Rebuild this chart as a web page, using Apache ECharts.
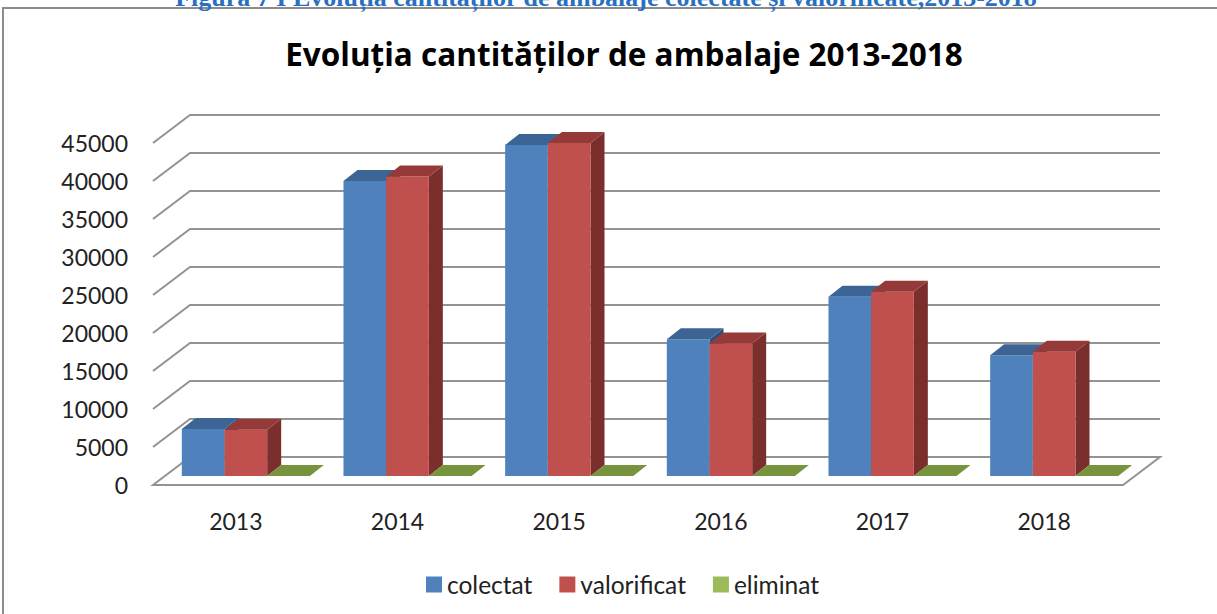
<!DOCTYPE html>
<html>
<head>
<meta charset="utf-8">
<script src="https://cdn.jsdelivr.net/npm/echarts@6/dist/echarts.min.js"></script>
<style>
    html, body { margin: 0; padding: 0; background: #fff; }
    #chart { width: 1217px; height: 614px; }
</style>
</head>
<body>
<div id="chart"></div>
<script>
// data
const years = ['2013', '2014', '2015', '2016', '2017', '2018']
const colectat = [6200, 38800, 43550, 18000, 23600, 15900]
const valorificat = [6100, 39400, 43800, 17450, 24250, 16350]
const eliminat = [0, 0, 0, 0, 0, 0]
const yTicks = [0, 5000, 10000, 15000, 20000, 25000, 30000, 35000, 40000, 45000]

// fake 3d offsets (pixels), relative to the bar plane
const frontOff = [-12, 9]
const backOff = [25, -19]
const barDepth = [14, -11]

const font = 'Lato, "Open Sans", sans-serif'

const chart = echarts.init(document.getElementById('chart'), null, { renderer: 'svg' })

const renderGrid = (params, api) => {
    const v = api.value(1)
    const cs = params.coordSys
    const y = api.coord([0, v])[1]
    const xl = cs.x
    const xr = cs.x + cs.width
    const F = [xl + frontOff[0], y + frontOff[1]]
    const B = [xl + backOff[0], y + backOff[1]]
    const R = [xr + backOff[0], y + backOff[1]]
    const children = []
    if (v === 0) {
        children.push({
            type: 'polygon',
            shape: { points: [F, B, R, [xr + frontOff[0], y + frontOff[1]]] },
            style: { stroke: '#939393', lineWidth: 2, fill: '#fff' }
        })
    } else {
        children.push({
            type: 'polyline',
            shape: { points: [F, B, R] },
            style: { stroke: '#939393', lineWidth: 2, fill: null }
        })
    }
    children.push({
        type: 'text',
        x: F[0] - 25,
        y: F[1],
        style: {
            text: String(v),
            align: 'right',
            verticalAlign: 'middle',
            font: '23px ' + font,
            fill: '#222'
        }
    })
    return { type: 'group', children }
}

const makeBox = (k, front, top, side) => (params, api) => {
    const i = api.value(0)
    const base = api.coord([i, 0])
    const tip = api.coord([i, api.value(1)])
    const band = api.size([1, 0])[0]
    const w = band * 0.264
    const x0 = base[0] - 1.5 * w + k * w
    const x1 = x0 + w
    const yb = base[1]
    const yt = tip[1]
    const dx = barDepth[0]
    const dy = barDepth[1]
    const children = []
    if (yb - yt > 0.5) {
        children.push({
            type: 'polygon',
            shape: { points: [[x1, yt], [x1 + dx, yt + dy], [x1 + dx, yb + dy], [x1, yb]] },
            style: { fill: side }
        })
        children.push({
            type: 'rect',
            shape: { x: x0, y: yt, width: w, height: yb - yt },
            style: { fill: front }
        })
    }
    children.push({
        type: 'polygon',
        shape: { points: [[x0, yt], [x1, yt], [x1 + dx, yt + dy], [x0 + dx, yt + dy]] },
        style: { fill: top }
    })
    return { type: 'group', children }
}

const barSeries = (name, k, values, front, top, side) => ({
    name,
    type: 'custom',
    renderItem: makeBox(k, front, top, side),
    itemStyle: { color: name === 'eliminat' ? '#9bbb59' : front },
    encode: { x: 0, y: 1 },
    data: values.map((v, i) => [i, v]),
    z: 3
})

chart.setOption({
    animation: false,
    graphic: [
        {
            type: 'rect',
            shape: { x: 3, y: 8, width: 1240, height: 640 },
            style: { fill: null, stroke: '#8c8c8c', lineWidth: 2 }
        },
        {
            type: 'text',
            x: 606,
            y: 10,
            style: {
                text: 'Figura 7 I Evoluția cantităților de ambalaje colectate și valorificate,2013-2018',
                align: 'center',
                verticalAlign: 'bottom',
                font: 'bold 26px "Liberation Serif", serif',
                fill: '#2a6fc0'
            }
        },
        {
            type: 'text',
            x: 624,
            y: 53,
            style: {
                text: 'Evoluția cantităților de ambalaje 2013-2018',
                align: 'center',
                verticalAlign: 'middle',
                font: 'bold 31.5px "Open Sans", Lato, sans-serif',
                fill: '#000'
            }
        }
    ],
    legend: {
        left: 421,
        top: 567,
        icon: 'rect',
        itemWidth: 16,
        itemHeight: 16,
        itemGap: 27,
        textStyle: { fontFamily: font, fontSize: 24.5, color: '#222' },
        data: ['colectat', 'valorificat', 'eliminat']
    },
    grid: {
        left: 165,
        right: 82,
        top: 134,
        bottom: 138,
        containLabel: false
    },
    xAxis: {
        type: 'category',
        data: years,
        axisLine: { show: false },
        axisTick: { show: false },
        axisLabel: {
            margin: 33,
            padding: [0, 20, 0, 0],
            fontFamily: font,
            fontSize: 23,
            color: '#222'
        }
    },
    yAxis: {
        type: 'value',
        min: 0,
        max: 45000,
        interval: 5000,
        axisLine: { show: false },
        axisTick: { show: false },
        axisLabel: { show: false },
        splitLine: { show: false }
    },
    series: [
        {
            name: 'grid',
            type: 'custom',
            renderItem: renderGrid,
            encode: { x: 0, y: 1 },
            data: yTicks.map(v => [0, v]),
            silent: true,
            z: 1
        },
        barSeries('colectat', 0, colectat, '#4f81bd', '#3c6494', '#2f5078'),
        barSeries('valorificat', 1, valorificat, '#c0504d', '#953a38', '#7b2f2d'),
        barSeries('eliminat', 2, eliminat, '#77933c', '#77933c', '#5e7530')
    ]
})
</script>
</body>
</html>
